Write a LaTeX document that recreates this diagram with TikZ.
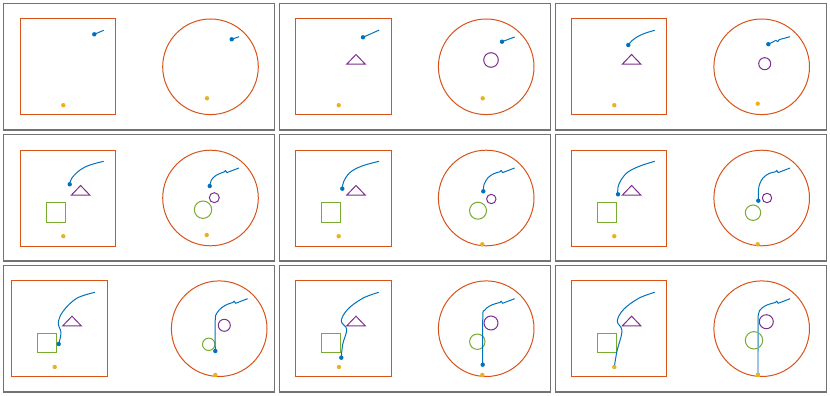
\documentclass[tikz,border=0pt]{standalone}
\definecolor{mblue}{HTML}{0072BD}
\definecolor{morange}{HTML}{D95319}
\definecolor{myellow}{HTML}{EDB120}
\definecolor{mpurple}{HTML}{7E2F8E}
\definecolor{mgreen}{HTML}{77AC30}
\tikzset{
  framebox/.style={draw=black!55,line width=1.3pt},
  arena/.style={draw=morange,line width=1pt},
  trail/.style={draw=mblue,line width=1pt,line join=round},
  bdot/.style={fill=mblue},
  ydot/.style={fill=myellow},
  tri/.style={draw=mpurple,line width=1pt,line join=miter},
  pcirc/.style={draw=mpurple,line width=1pt},
  gshape/.style={draw=mgreen,line width=1pt},
}
\newcommand{\zigend}{-- (15,-27.6) -- (16.4,-25.4) -- (28.4,-30)}
\def\dr{2.2}
\begin{document}
\begin{tikzpicture}[x=1pt,y=-1pt]
\useasboundingbox (0,0) rectangle (830,396);
\fill[white] (0,0) rectangle (830,396);
% frames
\foreach \fx in {3.5,279.5,555.5}{
  \foreach \fy in {3.5,134.5,265.5}{
    \draw[framebox] (\fx,\fy) rectangle ++(271,126.5);
  }
}
% ================= Panel 1
\begin{scope}[shift={(20.3,19)}]
  \draw[arena] (0,0) rectangle (95.6,95.7);
  \draw[trail] (74,15.3) -- (83.4,11.3);
  \fill[bdot] (74,15.3) circle (\dr);
  \fill[ydot] (43,86.2) circle (\dr);
\end{scope}
\begin{scope}[shift={(210.5,66.8)}]
  \draw[arena] (0,0) circle (47.8);
  \draw[trail] (21.2,-27.5) -- (28.5,-30.1);
  \fill[bdot] (21.2,-27.5) circle (\dr);
  \fill[ydot] (-3.5,31.5) circle (\dr);
\end{scope}
% ================= Panel 2
\begin{scope}[shift={(295.7,19)}]
  \draw[arena] (0,0) rectangle (95.6,95.7);
  \draw[tri] (51,45.2) -- (69.6,45.2) -- (60.3,35.5) -- cycle;
  \draw[trail] (67.3,18.3) -- (83.4,11.1);
  \fill[bdot] (67.3,18.3) circle (\dr);
  \fill[ydot] (43,86.2) circle (\dr);
\end{scope}
\begin{scope}[shift={(486.2,66.8)}]
  \draw[arena] (0,0) circle (47.8);
  \draw[pcirc] (4.8,-6.8) circle (7.3);
  \draw[trail] (15.8,-25.1) -- (28.5,-29.8);
  \fill[bdot] (15.8,-25.1) circle (\dr);
  \fill[ydot] (-3.5,31.5) circle (\dr);
\end{scope}
% ================= Panel 3
\begin{scope}[shift={(571.3,19)}]
  \draw[arena] (0,0) rectangle (95.6,95.7);
  \draw[tri] (51,45.2) -- (69.6,45.2) -- (60.3,35.5) -- cycle;
  \draw[trail] plot[smooth,tension=0.6] coordinates {(57,26) (60.5,21.8) (67.4,17) (75,13.8) (83.4,11.3)};
  \fill[bdot] (57,26) circle (\dr);
  \fill[ydot] (43,86.2) circle (\dr);
\end{scope}
\begin{scope}[shift={(761.7,66.8)}]
  \draw[arena] (0,0) circle (47.8);
  \draw[pcirc] (3,-3.1) circle (6);
  \draw[trail] (6.6,-22.6) -- (14.3,-26.5) -- (16,-25.1) -- (17.6,-27.2) -- (28.4,-30.1);
  \fill[bdot] (6.6,-22.6) circle (\dr);
  \fill[ydot] (-4,36.9) circle (\dr);
\end{scope}
% ================= Panel 4
\begin{scope}[shift={(20.3,150)}]
  \draw[arena] (0,0) rectangle (95.6,96);
  \draw[tri] (51,45.2) -- (69.6,45.2) -- (60.3,35.5) -- cycle;
  \draw[gshape] (25.9,52.5) rectangle (45.1,72);
  \draw[trail] plot[smooth,tension=0.6] coordinates {(49.4,34.3) (51.4,28.3) (59.7,20) (69.7,15) (83.4,11.3)};
  \fill[bdot] (49.4,34.3) circle (\dr);
  \fill[ydot] (43,86.2) circle (\dr);
\end{scope}
\begin{scope}[shift={(210.5,198)}]
  \draw[arena] (0,0) circle (47.8);
  \draw[pcirc] (3.8,-0.3) circle (5);
  \draw[gshape] (-7.5,11.7) circle (8.7);
  \draw[trail] plot[smooth,tension=0.6] coordinates {(-0.8,-12) (0.8,-17.8) (5.5,-22.6) (13.8,-26.2)} \zigend;
  \fill[bdot] (-0.8,-12) circle (\dr);
  \fill[ydot] (-3.8,37) circle (\dr);
\end{scope}
% ================= Panel 5
\begin{scope}[shift={(295.7,150)}]
  \draw[arena] (0,0) rectangle (95.6,96);
  \draw[tri] (51,45.2) -- (69.6,45.2) -- (60.3,35.5) -- cycle;
  \draw[gshape] (25.9,52.5) rectangle (45.1,72);
  \draw[trail] plot[smooth,tension=0.6] coordinates {(46.6,38.7) (47.8,32) (54.3,22.5) (66.3,16) (83.4,11.3)};
  \fill[bdot] (46.6,38.7) circle (\dr);
  \fill[ydot] (43,86.2) circle (\dr);
\end{scope}
\begin{scope}[shift={(486.2,198)}]
  \draw[arena] (0,0) circle (47.8);
  \draw[pcirc] (5.1,1) circle (4.7);
  \draw[gshape] (-8.2,12.7) circle (8.5);
  \draw[trail] plot[smooth,tension=0.6] coordinates {(-2.9,-6.7) (-2.2,-13.5) (2,-20.5) (8,-24.5) (13.8,-26.2)} \zigend;
  \fill[bdot] (-2.9,-6.7) circle (\dr);
  \fill[ydot] (-3.9,46.3) circle (\dr);
\end{scope}
% ================= Panel 6
\begin{scope}[shift={(571.3,150)}]
  \draw[arena] (0,0) rectangle (95.6,96);
  \draw[tri] (51,45.2) -- (69.6,45.2) -- (60.3,35.5) -- cycle;
  \draw[gshape] (25.9,52.5) rectangle (45.1,72);
  \draw[trail] plot[smooth,tension=0.6] coordinates {(46.7,44.3) (46.5,38) (49.7,30) (56.7,22) (68.7,16) (83.4,11.3)};
  \fill[bdot] (46.7,44.3) circle (\dr);
  \fill[ydot] (43,86.2) circle (\dr);
\end{scope}
\begin{scope}[shift={(761.7,198)}]
  \draw[arena] (0,0) circle (47.8);
  \draw[pcirc] (5.3,0) circle (4.7);
  \draw[gshape] (-8.7,14.7) circle (7.7);
  \draw[trail] plot[smooth,tension=0.6] coordinates {(-3.4,2.7) (-3.2,-8) (-2,-14) (1.3,-20) (7,-24.3) (13.8,-26.2)} \zigend;
  \fill[bdot] (-3.4,2.7) circle (\dr);
  \fill[ydot] (-4,46.3) circle (\dr);
\end{scope}
% ================= Panel 7
\begin{scope}[shift={(11.7,280.7)}]
  \draw[arena] (0,0) rectangle (95.6,96);
  \draw[tri] (51,45.2) -- (69.6,45.2) -- (60.3,35.5) -- cycle;
  \draw[gshape] (25.3,52.6) rectangle (44.6,71.6);
  \draw[trail] plot[smooth,tension=0.6] coordinates {(47,63.3) (49.3,52) (46.6,42) (51.6,30.3) (65,17.6) (83.3,11.6)};
  \fill[bdot] (47,63.3) circle (\dr);
  \fill[ydot] (43,86.3) circle (\dr);
\end{scope}
\begin{scope}[shift={(219.2,328.7)}]
  \draw[arena] (0,0) circle (47.8);
  \draw[pcirc] (5.1,-3.4) circle (6);
  \draw[gshape] (-10.5,15.6) circle (6.2);
  \draw[trail] plot[smooth,tension=0.6] coordinates {(-3.9,22.3) (-4,-8) (-2.4,-15.5) (2.5,-21) (8.5,-24.5) (13.8,-26.2)} \zigend;
  \fill[bdot] (-3.9,22.3) circle (\dr);
  \fill[ydot] (-3.9,46.3) circle (\dr);
\end{scope}
% ================= Panel 8
\begin{scope}[shift={(295.7,280.7)}]
  \draw[arena] (0,0) rectangle (95.6,96);
  \draw[tri] (51,45.2) -- (69.6,45.2) -- (60.3,35.5) -- cycle;
  \draw[gshape] (25.6,52.6) rectangle (45,71.6);
  \draw[trail] plot[smooth,tension=0.6] coordinates {(45.6,77) (47,63.6) (51,48.6) (45.6,40.3) (52,28.6) (67,17.6) (83,11.6)};
  \fill[bdot] (45.6,77) circle (\dr);
  \fill[ydot] (43.3,86.3) circle (\dr);
\end{scope}
\begin{scope}[shift={(486.2,328.7)}]
  \draw[arena] (0,0) circle (47.8);
  \draw[pcirc] (4.8,-5.7) circle (7);
  \draw[gshape] (-8.9,13) circle (7.7);
  \draw[trail] plot[smooth,tension=0.6] coordinates {(-3.5,36) (-3.4,-12) (-2,-18) (3,-22.5) (8.5,-24.8) (13.8,-26.2)} \zigend;
  \fill[bdot] (-3.5,36) circle (\dr);
  \fill[ydot] (-3.9,46.3) circle (\dr);
\end{scope}
% ================= Panel 9
\begin{scope}[shift={(571.3,280.7)}]
  \draw[arena] (0,0) rectangle (95.6,96);
  \draw[tri] (51,45.2) -- (69.6,45.2) -- (60.3,35.5) -- cycle;
  \draw[gshape] (26,52.6) rectangle (45,71.6);
  \draw[trail] plot[smooth,tension=0.6] coordinates {(43,86.3) (45.7,70.3) (50.7,50.3) (46,40.3) (52.4,28.6) (67.4,17.6) (83.4,11.6)};
  \fill[ydot] (43,86.3) circle (\dr);
\end{scope}
\begin{scope}[shift={(761.7,328.7)}]
  \draw[arena] (0,0) circle (47.8);
  \draw[pcirc] (4.6,-7) circle (7);
  \draw[gshape] (-7.7,11.6) circle (8.7);
  \draw[trail,draw=mblue!60,line width=1.4pt] (-3.7,46.6) -- (-3.6,-12);
  \draw[trail] plot[smooth,tension=0.6] coordinates {(-3.6,-12) (-2.2,-18) (2.8,-22.5) (8.5,-24.8) (13.8,-26.2)} \zigend;
  \fill[ydot] (-5.3,44.6) rectangle (-2.1,47.8);
\end{scope}
\end{tikzpicture}
\end{document}
